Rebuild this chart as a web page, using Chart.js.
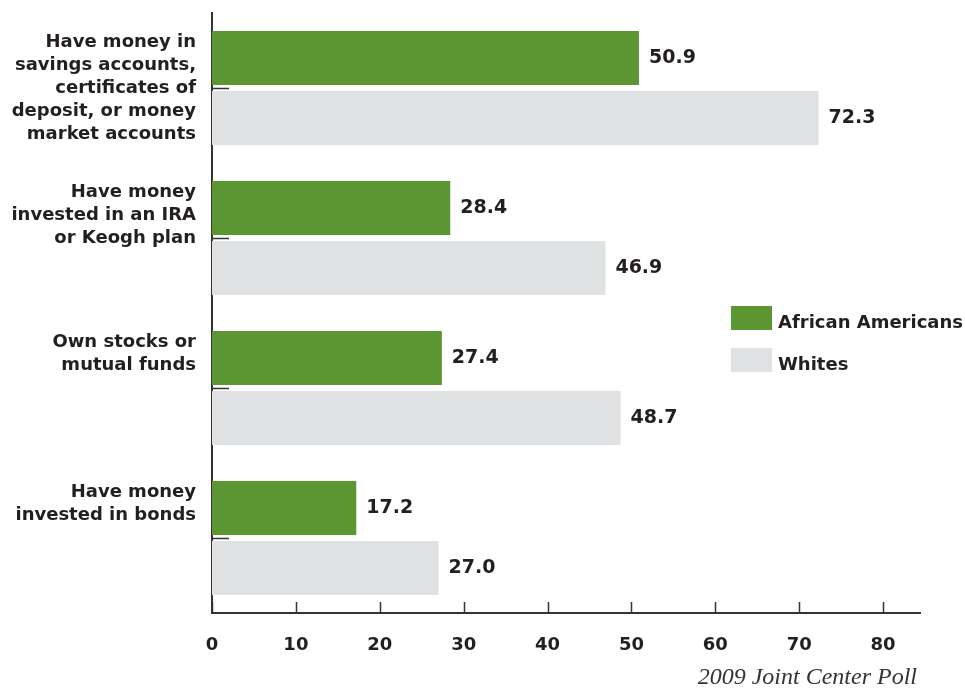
<!DOCTYPE html>
<html>
<head>
<meta charset="utf-8">
<script src="https://cdn.jsdelivr.net/npm/chart.js@4"></script>
<style>
html, body { margin: 0; padding: 0; background: #fff; }
#wrap { width: 965px; height: 689px; position: relative; }
</style>
</head>
<body>
<div id="wrap"><canvas id="assetsChart" width="965" height="689"></canvas></div>
<script>
const categories = [
    ["Have money in", "savings accounts,", "certificates of", "deposit, or money", "market accounts"],
    ["Have money", "invested in an IRA", "or Keogh plan"],
    ["Own stocks or", "mutual funds"],
    ["Have money", "invested in bonds"]
];
const africanAmericans = [50.9, 28.4, 27.4, 17.2];
const whites = [72.3, 46.9, 48.7, 27.0];
const seriesNames = ["African Americans", "Whites"];
const sourceNote = "2009 Joint Center Poll";

const GREEN = "#5b9632";
const GRAY = "#e0e1e3";
const INK = "#231f20";

// labels hang from the top of each group, so pad short ones to the longest
const maxLines = Math.max(...categories.map(c => c.length));

// tick marks point inward, values sit at the bar ends, legend floats at right
const extras = {
    id: "extras",
    afterDatasetsDraw(chart){
        const ctx = chart.ctx;
        const x = chart.scales.x;
        const y = chart.scales.y;
        ctx.save();
        ctx.strokeStyle = "#333";
        ctx.lineWidth = 1.5;
        x.ticks.forEach((t, i) => {
            const px = Math.round(x.getPixelForTick(i)) + 0.5;
            ctx.beginPath();
            ctx.moveTo(px, y.bottom);
            ctx.lineTo(px, y.bottom - 11);
            ctx.stroke();
        });
        categories.forEach((c, i) => {
            const py = Math.round(y.getPixelForValue(i)) + 0.5;
            ctx.beginPath();
            ctx.moveTo(x.left, py);
            ctx.lineTo(x.left + 17, py);
            ctx.stroke();
        });

        ctx.font = "bold 19px 'DejaVu Sans'";
        ctx.fillStyle = INK;
        ctx.textAlign = "left";
        ctx.textBaseline = "middle";
        chart.data.datasets.forEach((ds, di) => {
            chart.getDatasetMeta(di).data.forEach((bar, i) => {
                ctx.fillText(ds.data[i].toFixed(1), bar.x + 10, bar.y);
            });
        });

        ctx.font = "bold 18px 'DejaVu Sans'";
        chart.data.datasets.forEach((ds, di) => {
            const top = 306 + di * 42;
            ctx.fillStyle = ds.backgroundColor;
            ctx.fillRect(731, top, 41, 24);
            ctx.fillStyle = INK;
            ctx.fillText(ds.label, 778, top + 17);
        });

        ctx.font = "italic 24px 'Liberation Serif'";
        ctx.fillStyle = "#333";
        ctx.textAlign = "right";
        ctx.textBaseline = "alphabetic";
        ctx.fillText(sourceNote, 917, 684);
        ctx.restore();
    }
};

new Chart(document.getElementById("assetsChart"), {
    type: "bar",
    data: {
        labels: categories,
        datasets: [
            { label: seriesNames[0], data: africanAmericans, backgroundColor: GREEN },
            { label: seriesNames[1], data: whites, backgroundColor: GRAY }
        ]
    },
    options: {
        indexAxis: "y",
        responsive: false,
        animation: false,
        categoryPercentage: 0.8,
        barPercentage: 0.9,
        layout: { padding: { top: 13, right: 45, left: 0, bottom: 0 } },
        plugins: {
            legend: { display: false },
            tooltip: { enabled: false }
        },
        scales: {
            x: {
                min: 0,
                max: 84.4,
                grid: { display: false, drawTicks: false },
                border: { display: true, color: "#333", width: 2 },
                ticks: {
                    stepSize: 10,
                    includeBounds: false,
                    padding: 22,
                    color: INK,
                    font: { family: "DejaVu Sans", size: 18, weight: "bold" }
                },
                afterFit(scale){ scale.height = 76; }
            },
            y: {
                grid: { display: false, drawTicks: false },
                border: { display: true, color: "#333", width: 2 },
                ticks: {
                    padding: 16,
                    color: INK,
                    font: { family: "DejaVu Sans", size: 18, weight: "bold", lineHeight: 1.28 },
                    callback(value, index){
                        const lines = categories[index].slice();
                        while(lines.length < maxLines){
                            lines.push("");
                        }
                        return lines;
                    }
                },
                afterFit(scale){
                    scale.width = 212;
                    // the tall labels may spill past the plot edges
                    scale.paddingTop = 0;
                    scale.paddingBottom = 0;
                }
            }
        }
    },
    plugins: [extras]
});
</script>
</body>
</html>
